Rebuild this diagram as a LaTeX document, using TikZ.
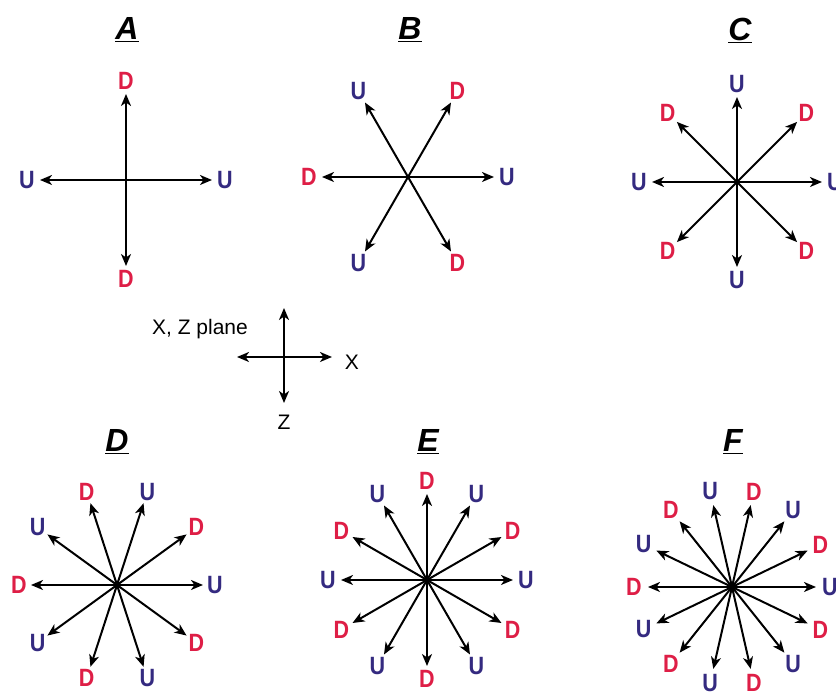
\documentclass[tikz,border=0pt]{standalone}
\usepackage{fontspec}
\setmainfont{Liberation Sans}
\newfontfamily\polefont{Liberation Sans}[FakeStretch=0.86]
\usetikzlibrary{arrows.meta}

\definecolor{upblue}{RGB}{52,42,128}
\definecolor{downred}{RGB}{222,30,70}

\begin{document}
\begin{tikzpicture}[
    x=1pt, y=1pt,
    >={Stealth[length=12pt,width=10pt,inset=3.5pt]},
    spoke/.style={->, line width=2pt},
    axis/.style={<->, line width=2pt},
    pole/.style={font=\fontsize{25}{25}\selectfont\polefont\bfseries},
    title/.style={font=\fontsize{32}{32}\selectfont\bfseries\itshape},
    plain/.style={font=\fontsize{21}{21}\selectfont}
]
\clip (0,0) rectangle (836,700);

% -------------------------
% Titles
% -------------------------
\node[title] (tA) at (127,670) {\underline{A}};
\node[title] (tB) at (410,670) {\underline{B}};
\node[title] (tC) at (740,670) {\underline{C}};
\node[title] (tD) at (117,258) {\underline{D}};
\node[title] (tE) at (428,258) {\underline{E}};
\node[title] (tF) at (733,258) {\underline{F}};

% -------------------------
% Centres of the stars
% -------------------------
\coordinate (A) at (126,520);
\coordinate (B) at (408,523);
\coordinate (C) at (737,518);
\coordinate (D) at (117,115);
\coordinate (E) at (427,120);
\coordinate (F) at (732,113);

% A: 4 spokes
\foreach \i in {0,...,3} {
    \ifodd\i \def\col{downred}\def\txt{D}\else \def\col{upblue}\def\txt{U}\fi
    \path (A) ++(\i*90:86) coordinate (A-e\i);
    \draw[spoke] (A) -- (A-e\i);
    \path (A) ++(\i*90:99) node[pole, text=\col] (A-l\i) {\txt};
}

% B: 6 spokes
\foreach \i in {0,...,5} {
    \ifodd\i \def\col{downred}\def\txt{D}\else \def\col{upblue}\def\txt{U}\fi
    \path (B) ++(\i*60:86) coordinate (B-e\i);
    \draw[spoke] (B) -- (B-e\i);
    \path (B) ++(\i*60:99) node[pole, text=\col] (B-l\i) {\txt};
}

% C: 8 spokes
\foreach \i in {0,...,7} {
    \ifodd\i \def\col{downred}\def\txt{D}\else \def\col{upblue}\def\txt{U}\fi
    \path (C) ++(\i*45:85) coordinate (C-e\i);
    \draw[spoke] (C) -- (C-e\i);
    \path (C) ++(\i*45:98) node[pole, text=\col] (C-l\i) {\txt};
}

% D: 10 spokes
\foreach \i in {0,...,9} {
    \ifodd\i \def\col{downred}\def\txt{D}\else \def\col{upblue}\def\txt{U}\fi
    \path (D) ++(\i*36:86) coordinate (D-e\i);
    \draw[spoke] (D) -- (D-e\i);
    \path (D) ++(\i*36:98) node[pole, text=\col] (D-l\i) {\txt};
}

% E: 12 spokes
\foreach \i in {0,...,11} {
    \ifodd\i \def\col{downred}\def\txt{D}\else \def\col{upblue}\def\txt{U}\fi
    \path (E) ++(\i*30:86) coordinate (E-e\i);
    \draw[spoke] (E) -- (E-e\i);
    \path (E) ++(\i*30:99) node[pole, text=\col] (E-l\i) {\txt};
}

% F: 14 spokes
\foreach \i in {0,...,13} {
    \ifodd\i \def\col{downred}\def\txt{D}\else \def\col{upblue}\def\txt{U}\fi
    \path (F) ++(\i*360/14:84) coordinate (F-e\i);
    \draw[spoke] (F) -- (F-e\i);
    \path (F) ++(\i*360/14:98) node[pole, text=\col] (F-l\i) {\txt};
}

% -------------------------
% X, Z plane axes
% -------------------------
\coordinate (xl) at (237,343);
\coordinate (xr) at (332,343);
\coordinate (zt) at (284,392);
\coordinate (zb) at (284,297);
\draw[axis] (xl) -- (xr);
\draw[axis] (zt) -- (zb);
\node[plain] (plane) at (200,371) {X, Z plane};
\node[plain] (xlab) at (352,338) {X};
\node[plain] (zlab) at (284,278) {Z};

\end{tikzpicture}
\end{document}
